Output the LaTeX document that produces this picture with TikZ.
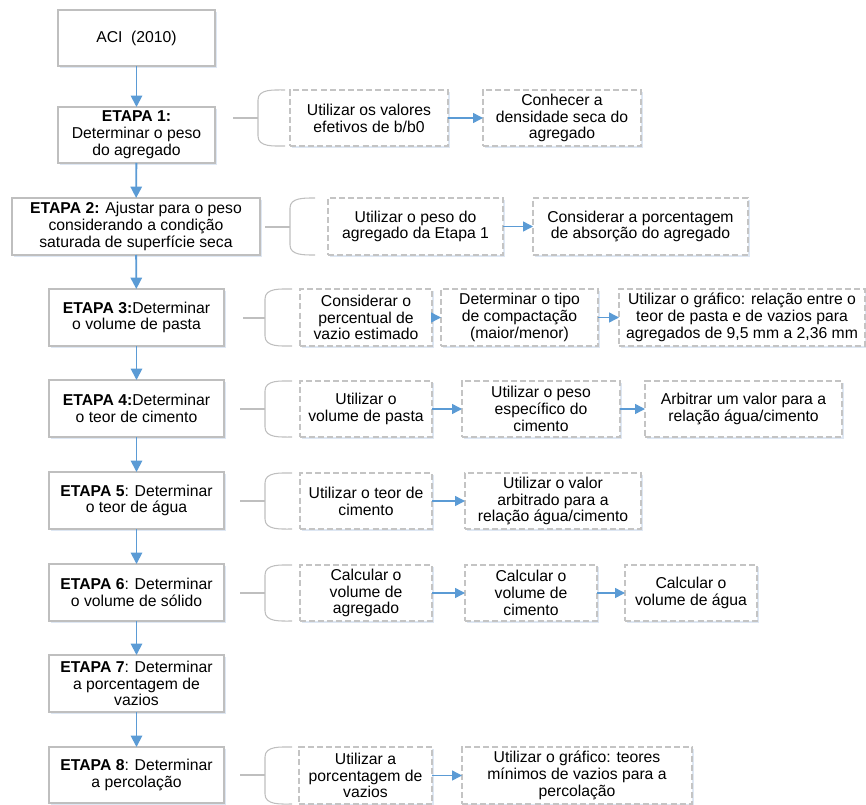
\documentclass[tikz,border=0pt]{standalone}
\usepackage{fontspec}
\setmainfont{Liberation Sans}
\usetikzlibrary{arrows.meta,shadows}
\definecolor{boxgray}{RGB}{191,191,191}
\definecolor{dashgray}{RGB}{196,196,196}
\definecolor{arrowblue}{RGB}{91,155,213}
\definecolor{shadowblue}{RGB}{214,225,240}
\tikzset{
  mainbox/.style={draw=boxgray, line width=0.8pt, fill=white, inner sep=0pt, outer sep=0pt,
    align=center, font=\fontsize{11.8}{12.6}\selectfont,
    drop shadow={shadow xshift=1.3pt, shadow yshift=-1.6pt, fill=shadowblue, opacity=0.8}},
  subbox/.style={mainbox, draw=dashgray, dash pattern=on 4.5pt off 2.3pt},
  flow/.style={draw=arrowblue, line width=1.4pt, -{Triangle[length=8.5pt,width=8.5pt]}},
  sideflow/.style={draw=arrowblue, line width=1.1pt, -{Triangle[length=7.5pt,width=7.5pt]}},
  bracelines/.style={draw=boxgray, line width=0.8pt},
}
% style, name, x1, y1, x2, y2, text
\newcommand\boxat[7]{%
  \node[#1, minimum width={(#5-#3)*0.75pt}, minimum height={(#6-#4)*0.75pt}]
    (#2) at ({(#3+#5)/2},{(#4+#6)/2}) {#7};}
% name, lineStart, x1, x2, top, bottom, mid
\newcommand\branch[7]{%
  \coordinate (#1s) at (#2,#7);
  \coordinate (#1m) at (#3,#7);
  \draw[bracelines] (#1s) -- (#1m);
  \draw[bracelines] (#4,#5) to[out=180,in=90] (#3,#5+10) -- (#3,#6-10) to[out=-90,in=180] (#4,#6);}
\begin{document}
\begin{tikzpicture}[x=0.75pt,y=-0.75pt]
\useasboundingbox (0,0) rectangle (866,805);

% main column
\boxat{mainbox}{aci}{58}{10}{215}{66}{ACI\ \ (2010)}
\boxat{mainbox}{e1}{58}{107}{215}{163}{\textbf{ETAPA 1:}\\Determinar o peso\\do agregado}
\boxat{mainbox}{e2}{12}{198}{260}{255}{\textbf{ETAPA 2:} Ajustar para o peso\\considerando a condição\\saturada de superfície seca}
\boxat{mainbox}{e3}{49}{289}{224}{346}{\textbf{ETAPA 3:}Determinar\\o volume de pasta}
\boxat{mainbox}{e4}{49}{380}{224}{437}{\textbf{ETAPA 4:}Determinar\\o teor de cimento}
\boxat{mainbox}{e5}{49}{472}{224}{529}{\textbf{ETAPA 5}: Determinar\\o teor de água}
\boxat{mainbox}{e6}{49}{564}{224}{621}{\textbf{ETAPA 6}: Determinar\\o volume de sólido}
\boxat{mainbox}{e7}{49}{655}{224}{712}{\textbf{ETAPA 7}: Determinar\\a porcentagem de\\vazios}
\boxat{mainbox}{e8}{49}{747}{224}{803}{\textbf{ETAPA 8}: Determinar\\a percolação}

\draw[flow] (aci) -- (e1);
\draw[flow] (e1) -- (e2);
\draw[flow] (e2) -- (e3);
\draw[flow] (e3) -- (e4);
\draw[flow] (e4) -- (e5);
\draw[flow] (e5) -- (e6);
\draw[flow] (e6) -- (e7);
\draw[flow] (e7) -- (e8);

% Etapa 1
\branch{r1}{233}{258}{285}{90}{146}{118}
\boxat{subbox}{a1}{290}{90}{448}{146}{Utilizar os valores\\efetivos de b/b0}
\boxat{subbox}{a2}{483}{90}{641}{146}{Conhecer a\\densidade seca do\\agregado}
\draw[sideflow] (a1) -- (a2);

% Etapa 2
\branch{r2}{265}{290}{315}{198}{255}{227}
\boxat{subbox}{b1}{328}{198}{503}{255}{Utilizar o peso do\\agregado da Etapa 1}
\boxat{subbox}{b2}{533}{198}{748}{255}{Considerar a porcentagem\\de absorção do agregado}
\draw[sideflow] (b1) -- (b2);

% Etapa 3
\branch{r3}{243}{265}{292}{289}{346}{318}
\boxat{subbox}{c1}{300}{289}{432}{346}{Considerar o\\percentual de\\vazio estimado}
\boxat{subbox}{c2}{441}{289}{598}{346}{Determinar o tipo\\de compactação\\(maior/menor)}
\boxat{subbox}{c3}{619}{289}{865}{346}{Utilizar o gráfico: relação entre o\\teor de pasta e de vazios para\\agregados de 9,5 mm a 2,36 mm}
\draw[sideflow] (c1) -- (c2);
\draw[sideflow] (c2) -- (c3);

% Etapa 4
\branch{r4}{240}{265}{292}{381}{437}{409}
\boxat{subbox}{d1}{300}{381}{432}{437}{Utilizar o\\volume de pasta}
\boxat{subbox}{d2}{462}{381}{620}{437}{Utilizar o peso\\específico do\\cimento}
\boxat{subbox}{d3}{645}{381}{842}{437}{Arbitrar um valor para a\\relação água/cimento}
\draw[sideflow] (d1) -- (d2);
\draw[sideflow] (d2) -- (d3);

% Etapa 5
\branch{r5}{240}{265}{292}{473}{529}{501}
\boxat{subbox}{f1}{300}{473}{432}{529}{Utilizar o teor de\\cimento}
\boxat{subbox}{f2}{465}{473}{641}{529}{Utilizar o valor\\arbitrado para a\\relação água/cimento}
\draw[sideflow] (f1) -- (f2);

% Etapa 6
\branch{r6}{240}{265}{292}{565}{621}{593}
\boxat{subbox}{g1}{300}{565}{432}{621}{Calcular o\\volume de\\agregado}
\boxat{subbox}{g2}{465}{565}{597}{621}{Calcular o\\volume de\\cimento}
\boxat{subbox}{g3}{625}{565}{757}{621}{Calcular o\\volume de água}
\draw[sideflow] (g1) -- (g2);
\draw[sideflow] (g2) -- (g3);

% Etapa 8
\branch{r8}{240}{265}{292}{747}{804}{775}
\boxat{subbox}{h1}{299}{747}{432}{804}{Utilizar a\\porcentagem de\\vazios}
\boxat{subbox}{h2}{462}{747}{692}{804}{Utilizar o gráfico: teores\\mínimos de vazios para a\\percolação}
\draw[sideflow] (h1) -- (h2);
\end{tikzpicture}
\end{document}
